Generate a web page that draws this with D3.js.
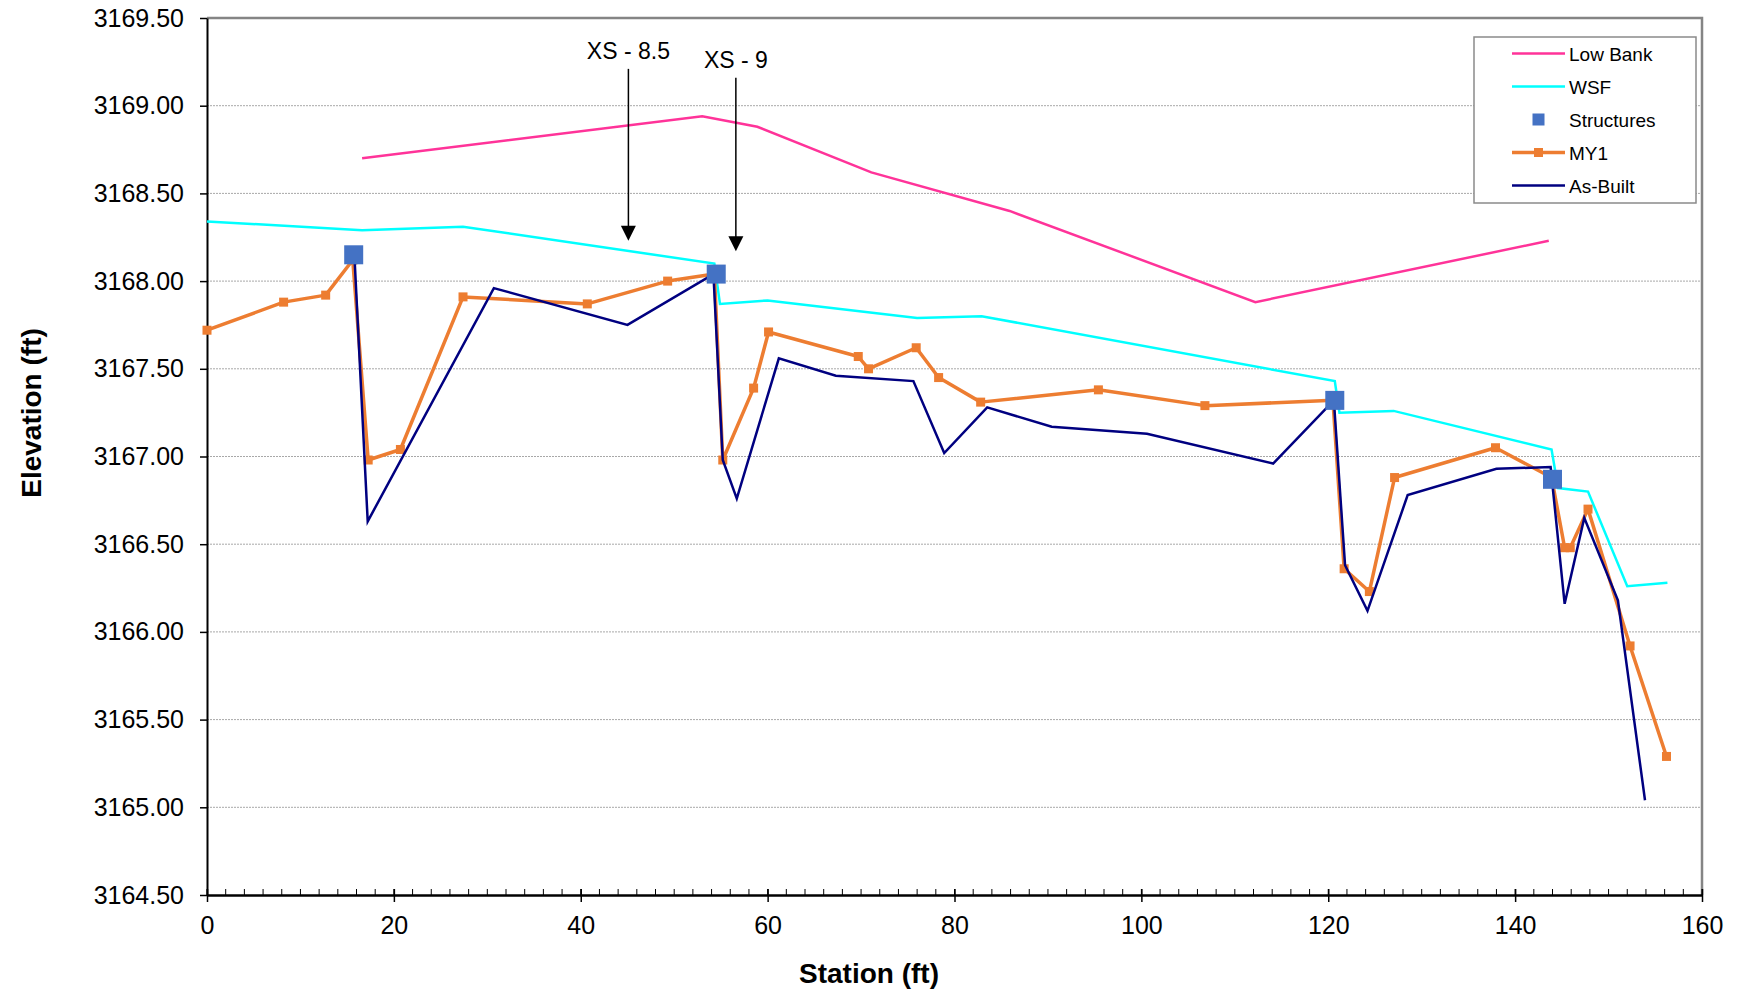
<!DOCTYPE html>
<html>
<head>
<meta charset="utf-8">
<script src="https://cdn.jsdelivr.net/npm/d3@7"></script>
<style>
  body { margin: 0; background: #fff; }
  text { font-family: "Liberation Sans", Arial, sans-serif; }
</style>
</head>
<body>
<div id="chart"></div>
<script>
// ---- data (station ft, elevation ft) ----
var lowBankX = [16.6, 53.0, 58.9, 71.1, 85.9, 112.2, 143.6];
var lowBankY = [3168.70, 3168.94, 3168.88, 3168.62, 3168.40, 3167.88, 3168.23];

var wsfX = [0, 16.6, 27.4, 54.3, 54.9, 60.0, 76.0, 82.9, 120.7, 121.2, 127.0, 143.9, 144.6, 147.8, 152.0, 156.3];
var wsfY = [3168.34, 3168.29, 3168.31, 3168.10, 3167.87, 3167.89, 3167.79, 3167.80, 3167.43, 3167.25, 3167.26, 3167.04, 3166.82, 3166.80, 3166.26, 3166.28];

var structX = [15.7, 54.5, 120.7, 144.0];
var structY = [3168.15, 3168.04, 3167.32, 3166.87];

var my1X = [0, 8.2, 12.7, 15.6, 17.25, 20.7, 27.4, 40.7, 49.3, 54.3, 55.2, 58.5, 60.1, 69.7, 70.8, 75.9, 78.3, 82.8, 95.4, 106.8, 120.5, 121.7, 124.4, 127.1, 137.9, 143.9, 145.3, 145.9, 147.8, 152.3, 156.2];
var my1Y = [3167.72, 3167.88, 3167.92, 3168.12, 3166.98, 3167.04, 3167.91, 3167.87, 3168.00, 3168.04, 3166.98, 3167.39, 3167.71, 3167.57, 3167.50, 3167.62, 3167.45, 3167.31, 3167.38, 3167.29, 3167.32, 3166.36, 3166.23, 3166.88, 3167.05, 3166.88, 3166.48, 3166.48, 3166.70, 3165.92, 3165.29];

var asBuiltX = [15.8, 17.2, 30.7, 45.0, 54.2, 55.2, 56.7, 61.2, 67.3, 75.6, 78.9, 83.5, 90.4, 100.6, 114.1, 120.6, 121.8, 124.2, 128.5, 138.0, 143.8, 145.3, 147.4, 151.0, 153.9];
var asBuiltY = [3168.12, 3166.63, 3167.96, 3167.75, 3168.04, 3166.98, 3166.76, 3167.56, 3167.46, 3167.43, 3167.02, 3167.28, 3167.17, 3167.13, 3166.96, 3167.32, 3166.38, 3166.12, 3166.78, 3166.93, 3166.94, 3166.16, 3166.65, 3166.18, 3165.04];

var yTicks = [3164.5, 3165.0, 3165.5, 3166.0, 3166.5, 3167.0, 3167.5, 3168.0, 3168.5, 3169.0, 3169.5];
var xTicks = [0, 20, 40, 60, 80, 100, 120, 140, 160];

// cross-section annotations
var annLabels = ["XS - 8.5", "XS - 9"];
var annX = [45.1, 56.6];
var annTop = [3169.21, 3169.16];
var annTip = [3168.23, 3168.17];

var legendNames = ["Low Bank", "WSF", "Structures", "MY1", "As-Built"];

//////// CANVAS ////////
var outerWidth = 1739, outerHeight = 993;
var margin = {top: 18, right: 37, bottom: 98, left: 207};
var width = outerWidth - margin.left - margin.right,
    height = outerHeight - margin.top - margin.bottom;

var svg = d3.select("#chart").append("svg")
    .attr("width", outerWidth)
    .attr("height", outerHeight);

var g = svg.append("g")
    .attr("transform", "translate(" + margin.left + "," + margin.top + ")");

//////// SCALES ////////
var xScale = d3.scaleLinear().domain([0, 160]).range([0, width]);
var yScale = d3.scaleLinear().domain([3164.5, 3169.5]).range([height, 0]);

function zip(xs, ys) { return xs.map(function(x, i) { return {x: x, y: ys[i]}; }); }

// gridlines
g.append("g")
    .selectAll("line")
    .data(yTicks.slice(1, -1))
    .enter().append("line")
    .attr("x1", 0).attr("x2", width)
    .attr("y1", function(d) { return yScale(d); })
    .attr("y2", function(d) { return yScale(d); })
    .attr("stroke", "#a8a8a8")
    .attr("stroke-width", 1)
    .attr("stroke-dasharray", "2,1");

// top / right border
g.append("path")
    .attr("d", "M0,0H" + width + "V" + height)
    .attr("fill", "none")
    .attr("stroke", "#858585")
    .attr("stroke-width", 2.5);

// y axis
var yAxis = g.append("g")
    .call(d3.axisLeft(yScale).tickValues(yTicks).tickSize(7).tickSizeOuter(0).tickPadding(16)
        .tickFormat(d3.format(".2f")));
yAxis.select(".domain").attr("stroke", "#000").attr("stroke-width", 2);
yAxis.selectAll(".tick line").attr("stroke", "#000").attr("stroke-width", 1.5);
yAxis.selectAll("text").attr("font-size", 25).attr("fill", "#000")
    .attr("font-family", "Liberation Sans, Arial, sans-serif");

// x axis (minor inside ticks every 2)
var xAxisG = g.append("g").attr("transform", "translate(0," + height + ")");
xAxisG.selectAll("line.minor")
    .data(d3.range(0, 161, 2))
    .enter().append("line")
    .attr("class", "minor")
    .attr("x1", function(d) { return xScale(d); })
    .attr("x2", function(d) { return xScale(d); })
    .attr("y1", -6).attr("y2", 0)
    .attr("stroke", "#000").attr("stroke-width", 1);
var xAxis = xAxisG.append("g")
    .call(d3.axisBottom(xScale).tickValues(xTicks).tickSize(7).tickSizeOuter(0).tickPadding(14));
xAxis.select(".domain").attr("stroke", "#000").attr("stroke-width", 2.5);
xAxis.selectAll(".tick line").attr("y1", -6).attr("stroke", "#000").attr("stroke-width", 1.5);
xAxis.selectAll("text").attr("font-size", 25).attr("fill", "#000")
    .attr("font-family", "Liberation Sans, Arial, sans-serif");

// axis titles
svg.append("text")
    .attr("x", 869)
    .attr("y", 983)
    .attr("text-anchor", "middle")
    .attr("font-size", 28).attr("font-weight", "bold")
    .text("Station (ft)");

svg.append("text")
    .attr("transform", "translate(41," + 413 + ") rotate(-90)")
    .attr("text-anchor", "middle")
    .attr("font-size", 28).attr("font-weight", "bold")
    .text("Elevation (ft)");

//////// SERIES ////////
var line = d3.line()
    .x(function(d) { return xScale(d.x); })
    .y(function(d) { return yScale(d.y); });

var plot = g.append("g");

plot.append("path")
    .datum(zip(lowBankX, lowBankY))
    .attr("d", line).attr("fill", "none")
    .attr("stroke", "#ff3399").attr("stroke-width", 2.5);

plot.append("path")
    .datum(zip(wsfX, wsfY))
    .attr("d", line).attr("fill", "none")
    .attr("stroke", "#00ffff").attr("stroke-width", 2.5);

plot.append("path")
    .datum(zip(my1X, my1Y))
    .attr("d", line).attr("fill", "none")
    .attr("stroke", "#ed7d31").attr("stroke-width", 3.5)
    .attr("stroke-linejoin", "round");

plot.selectAll("rect.my1")
    .data(zip(my1X, my1Y))
    .enter().append("rect")
    .attr("class", "my1")
    .attr("x", function(d) { return xScale(d.x) - 4.5; })
    .attr("y", function(d) { return yScale(d.y) - 4.5; })
    .attr("width", 9).attr("height", 9)
    .attr("fill", "#ed7d31");

plot.append("path")
    .datum(zip(asBuiltX, asBuiltY))
    .attr("d", line).attr("fill", "none")
    .attr("stroke", "#000080").attr("stroke-width", 2.5);

plot.selectAll("rect.struct")
    .data(zip(structX, structY))
    .enter().append("rect")
    .attr("class", "struct")
    .attr("x", function(d) { return xScale(d.x) - 9.5; })
    .attr("y", function(d) { return yScale(d.y) - 9.5; })
    .attr("width", 19).attr("height", 19)
    .attr("fill", "#4472c4");

//////// ANNOTATIONS ////////
var ann = g.append("g")
    .selectAll("g")
    .data(annLabels.map(function(l, i) { return {label: l, x: annX[i], top: annTop[i], tip: annTip[i]}; }))
    .enter().append("g");

ann.append("line")
    .attr("x1", function(d) { return xScale(d.x); })
    .attr("x2", function(d) { return xScale(d.x); })
    .attr("y1", function(d) { return yScale(d.top); })
    .attr("y2", function(d) { return yScale(d.tip) - 12; })
    .attr("stroke", "#000").attr("stroke-width", 1.5);

ann.append("path")
    .attr("d", function(d) {
        var x = xScale(d.x), y = yScale(d.tip);
        return "M" + (x - 7.5) + "," + (y - 15) + "L" + (x + 7.5) + "," + (y - 15) + "L" + x + "," + y + "Z";
    })
    .attr("fill", "#000");

ann.append("text")
    .attr("x", function(d) { return xScale(d.x); })
    .attr("y", function(d) { return yScale(d.top) - 10; })
    .attr("text-anchor", "middle")
    .attr("font-family", "Lato, 'Open Sans', sans-serif")
    .attr("font-size", 23)
    .text(function(d) { return d.label; });

//////// LEGEND ////////
var legend = svg.append("g").attr("transform", "translate(1474,37)");
legend.append("rect")
    .attr("width", 222).attr("height", 166)
    .attr("fill", "#fff").attr("stroke", "#8a8a8a").attr("stroke-width", 1.5);

var legendColor = ["#ff3399", "#00ffff", "#4472c4", "#ed7d31", "#000080"];
var rows = legend.selectAll("g.row")
    .data(legendNames)
    .enter().append("g")
    .attr("class", "row")
    .attr("transform", function(d, i) { return "translate(0," + (16.5 + i * 33) + ")"; });

rows.filter(function(d, i) { return i !== 2; })
    .append("line")
    .attr("x1", 38).attr("x2", 91).attr("y1", 0).attr("y2", 0)
    .attr("stroke", function(d) { return legendColor[legendNames.indexOf(d)]; })
    .attr("stroke-width", function(d) { return d === "MY1" ? 3.5 : 2.5; });

rows.filter(function(d) { return d === "Structures" || d === "MY1"; })
    .append("rect")
    .attr("x", function(d) { return d === "Structures" ? 58.5 : 60; })
    .attr("y", function(d) { return d === "Structures" ? -6 : -4.5; })
    .attr("width", function(d) { return d === "Structures" ? 12 : 9; })
    .attr("height", function(d) { return d === "Structures" ? 12 : 9; })
    .attr("fill", function(d) { return legendColor[legendNames.indexOf(d)]; });

rows.append("text")
    .attr("x", 95).attr("y", 7)
    .attr("font-size", 19)
    .text(function(d) { return d; });
</script>
</body>
</html>
